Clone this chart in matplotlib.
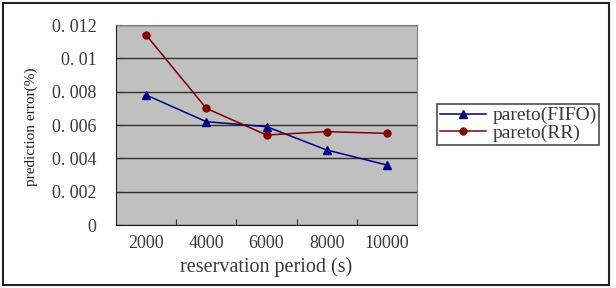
import matplotlib.pyplot as plt
from matplotlib.patches import Rectangle

periods = ["2000", "4000", "6000", "8000", "10000"]
fifo = [0.0078, 0.0062, 0.0059, 0.0045, 0.0036]
rr = [0.0114, 0.0070, 0.0054, 0.0056, 0.0055]
yticks = [0, 0.002, 0.004, 0.006, 0.008, 0.01, 0.012]
ytick_labels = ["0", "0. 002", "0. 004", "0. 006", "0. 008", "0. 01", "0. 012"]

serif = "Liberation Serif"
txt = "#3a3a3a"

fig = plt.figure(figsize=(6.16, 2.88), dpi=100)
fig.patches.append(Rectangle((3 / 616, 3 / 288), 606 / 616, 282 / 288, transform=fig.transFigure,
                             fill=False, edgecolor="#202020", linewidth=1.5))

ax = fig.add_axes([116 / 616, 1 - 225 / 288, 301 / 616, 200 / 288])
ax.set_facecolor("#c0c0c0")

x = range(len(periods))
ax.plot(x, fifo, color="#000080", marker="^", markersize=6, linewidth=1.1, label="pareto(FIFO)")
ax.plot(x, rr, color="#800000", marker="o", markersize=5, linewidth=1.1, label="pareto(RR)")

ax.set_xlim(-0.5, len(periods) - 0.5)
ax.set_ylim(0, 0.012)
ax.set_yticks(yticks)
ax.set_yticklabels(ytick_labels, fontfamily=serif, fontsize=13, color=txt)
ax.set_xticks([i + 0.5 for i in range(len(periods) - 1)])
ax.set_xticklabels([])
ax.set_xticks(list(x), minor=True)
ax.set_xticklabels(periods, minor=True, fontfamily=serif, fontsize=13, color=txt)
ax.tick_params(axis="x", which="minor", length=0, pad=7)
ax.tick_params(axis="x", which="major", direction="in", length=4, color="#333333")
ax.tick_params(axis="y", direction="in", length=4, color="#333333", pad=14)
ax.grid(axis="y", color="#303030", linewidth=1.0)
ax.set_axisbelow(True)
for s in ax.spines.values():
    s.set_color("#808080")
ax.spines["left"].set_color("#202020")
ax.spines["bottom"].set_color("#202020")

ax.set_xlabel("reservation period (s)", fontfamily=serif, fontsize=14.5, color=txt, labelpad=4)
fig.text(31 / 616, 1 - 127 / 288, "prediction error(%)", rotation=90, ha="center", va="center",
         fontfamily=serif, fontsize=11, color="#222222")

leg = fig.legend(loc="center", bbox_to_anchor=(431 / 616, 1 - 146 / 288, 174 / 616, 43 / 288),
                 prop={"family": serif, "size": 14}, frameon=True, fancybox=False,
                 handlelength=2.4, handletextpad=0.3, borderpad=0.15, labelspacing=0.0,
                 borderaxespad=0)
leg.get_frame().set_edgecolor("#202020")
leg.get_frame().set_linewidth(1.2)
for t in leg.get_texts():
    t.set_color(txt)

fig.savefig("out.png", dpi=100)
